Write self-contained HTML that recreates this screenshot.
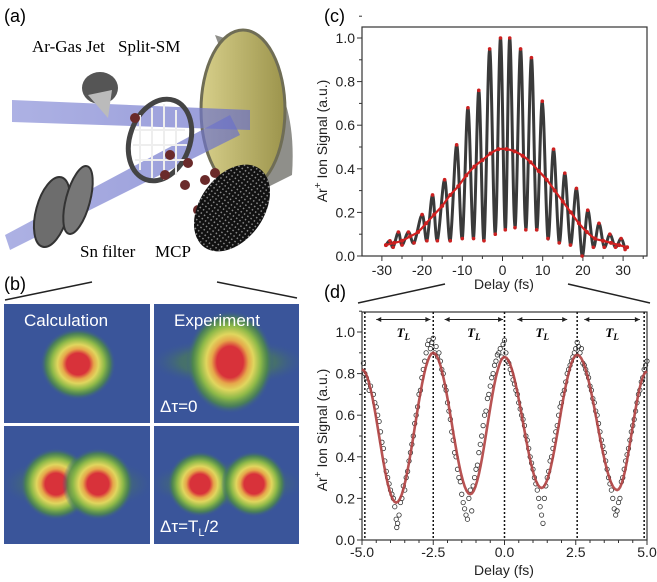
<!DOCTYPE html>
<html><head><meta charset="utf-8"><style>
body{margin:0;background:#fff;}
svg{display:block;font-family:"Liberation Sans",sans-serif;}
</style></head><body>
<svg id="fig" width="657" height="582" viewBox="0 0 657 582" xmlns="http://www.w3.org/2000/svg">
<defs>
 <radialGradient id="spot"><stop offset="0" stop-color="#d8323a"/><stop offset="0.3" stop-color="#d8323a"/><stop offset="0.42" stop-color="#e6a64a"/><stop offset="0.54" stop-color="#e0d65e"/><stop offset="0.7" stop-color="#8cb848"/><stop offset="0.85" stop-color="#4e8a48" stop-opacity="0.8"/><stop offset="1" stop-color="#3a559a" stop-opacity="0"/></radialGradient>
 <radialGradient id="glow"><stop offset="0" stop-color="#4f8a4a"/><stop offset="0.6" stop-color="#4a7a5a" stop-opacity="0.7"/><stop offset="1" stop-color="#3a559a" stop-opacity="0"/></radialGradient>
 <linearGradient id="beam" x1="0" x2="1"><stop offset="0" stop-color="#8a90d8" stop-opacity="0.7"/><stop offset="1" stop-color="#6a70c8" stop-opacity="0.7"/></linearGradient>
 <linearGradient id="mirrorG" x1="0" x2="1"><stop offset="0" stop-color="#d7cf8a"/><stop offset="1" stop-color="#9c944c"/></linearGradient>
 <pattern id="mesh" width="4" height="4" patternUnits="userSpaceOnUse"><rect width="4" height="4" fill="#111"/><rect x="1" y="1" width="1.5" height="1.5" fill="#888"/></pattern>
 <clipPath id="c1"><rect x="4" y="304" width="146" height="119"/></clipPath>
 <clipPath id="c2"><rect x="154" y="304" width="145" height="119"/></clipPath>
 <clipPath id="c3"><rect x="4" y="426" width="146" height="118"/></clipPath>
 <clipPath id="c4"><rect x="154" y="426" width="145" height="118"/></clipPath>
</defs>

<!-- Panel (a) -->
<g>
 <text x="4" y="22" font-size="18">(a)</text>
 <path d="M215,35 Q300,60 292,175 L262,190 Q240,100 215,35Z" fill="#8f8f8a"/>
 <ellipse cx="243" cy="110" rx="42" ry="80" fill="url(#mirrorG)" stroke="#6f6d55" stroke-width="3"/>
 <polygon points="12,100 250,110 250,130 12,122" fill="url(#beam)"/>
 <polygon points="5,235 230,115 240,135 10,250" fill="url(#beam)"/>
 <ellipse cx="100" cy="88" rx="18" ry="16" fill="#555"/>
 <polygon points="88,95 112,90 108,118" fill="#bbb"/>
 <ellipse cx="160" cy="140" rx="30" ry="42" transform="rotate(20 160 140)" fill="none" stroke="#444" stroke-width="5"/>
 <g stroke="#eee" stroke-width="2"><line x1="140" y1="115" x2="140" y2="170"/><line x1="152" y1="108" x2="152" y2="178"/><line x1="164" y1="104" x2="164" y2="180"/><line x1="176" y1="110" x2="176" y2="175"/><line x1="135" y1="130" x2="185" y2="130"/><line x1="133" y1="145" x2="187" y2="145"/><line x1="135" y1="160" x2="185" y2="160"/></g>
 <g fill="#6a2a2a"><circle cx="135" cy="118" r="5"/><circle cx="170" cy="155" r="5"/><circle cx="188" cy="163" r="5"/><circle cx="165" cy="175" r="5"/><circle cx="185" cy="185" r="5"/><circle cx="205" cy="180" r="5"/><circle cx="215" cy="173" r="5"/><circle cx="198" cy="210" r="5"/></g>
 <ellipse cx="52" cy="212" rx="16" ry="36" transform="rotate(15 52 212)" fill="#6d6d6d" stroke="#333" stroke-width="2"/>
 <ellipse cx="78" cy="200" rx="12" ry="35" transform="rotate(15 78 200)" fill="#777" stroke="#333" stroke-width="2"/>
 <ellipse cx="232" cy="208" rx="32" ry="48" transform="rotate(35 232 208)" fill="url(#mesh)"/>
 <g font-family="Liberation Serif,serif" font-size="17">
  <text x="32" y="52">Ar-Gas Jet</text>
  <text x="118" y="52">Split-SM</text>
  <text x="80" y="257">Sn filter</text>
  <text x="155" y="257">MCP</text>
 </g>
</g>

<!-- Panel (b) -->
<g>
 <text x="4" y="290" font-size="18">(b)</text>
 <line x1="5" y1="300" x2="92" y2="282" stroke="#222" stroke-width="1.5"/>
 <line x1="217" y1="282" x2="297" y2="298" stroke="#222" stroke-width="1.5"/>
 <rect x="4" y="304" width="146" height="119" fill="#3a559a"/>
 <rect x="154" y="304" width="145" height="119" fill="#3a559a"/>
 <rect x="4" y="426" width="146" height="118" fill="#3a559a"/>
 <rect x="154" y="426" width="145" height="118" fill="#3a559a"/>
 <g clip-path="url(#c1)"><ellipse cx="78" cy="364" rx="38" ry="36" fill="url(#spot)"/></g>
 <g clip-path="url(#c2)"><ellipse cx="228" cy="362" rx="80" ry="24" fill="url(#glow)"/>
  <ellipse cx="230" cy="362" rx="44" ry="52" fill="url(#spot)"/></g>
 <g clip-path="url(#c3)"><ellipse cx="77" cy="484" rx="78" ry="28" fill="url(#glow)"/>
  <ellipse cx="56" cy="484" rx="36" ry="36" fill="url(#spot)"/>
  <ellipse cx="98" cy="484" rx="36" ry="36" fill="url(#spot)"/></g>
 <g clip-path="url(#c4)"><ellipse cx="226" cy="484" rx="80" ry="24" fill="url(#glow)"/>
  <ellipse cx="200" cy="484" rx="33" ry="33" fill="url(#spot)"/>
  <ellipse cx="254" cy="484" rx="33" ry="33" fill="url(#spot)"/></g>
 <g fill="#fff" font-size="17">
  <text x="24" y="326">Calculation</text>
  <text x="174" y="326">Experiment</text>
  <text x="160" y="412">Δτ=0</text>
  <text x="160" y="532">Δτ=T<tspan font-size="11" dy="4">L</tspan><tspan dy="-4">/2</tspan></text>
 </g>
</g>

<g id="chartC"></g>
<g id="chartD"></g>
</svg>
<script>
// ---- chart (c) data ----
const cDelay=[-29,-28,-27.2,-25.9,-25,-23.4,-22,-20.0,-18.8,-17.4,-16.2,-14.4,-13.0,-11.4,-10.0,-8.6,-7.2,-5.9,-4.6,-3.2,-1.8,-0.5,0.7,1.8,3.1,4.5,5.8,7.2,8.5,9.9,11.3,12.7,14.1,15.5,16.9,18.4,19.8,21.2,22.6,24.0,25.3,26.7,28.1,29.5,30.5];
const cSignal=[0.05,0.07,0.04,0.11,0.05,0.11,0.06,0.19,0.07,0.28,0.07,0.35,0.07,0.51,0.08,0.68,0.08,0.76,0.07,0.95,0.10,1.0,0.12,1.0,0.13,0.95,0.12,0.91,0.12,0.71,0.08,0.49,0.06,0.38,0.05,0.31,0.0,0.21,0.04,0.15,0.04,0.10,0.04,0.08,0.03];
const eDelay=[-29,-27,-25,-23,-21,-19,-17,-15,-13,-11,-9,-7,-5,-3,-1,1,3,5,7,9,11,13,15,17,19,21,23,25,27,29,31];
const eSignal=[0.05,0.06,0.07,0.09,0.11,0.15,0.19,0.23,0.28,0.32,0.37,0.41,0.44,0.47,0.49,0.49,0.48,0.46,0.43,0.39,0.35,0.30,0.25,0.20,0.15,0.11,0.08,0.07,0.06,0.05,0.04];
const cXTicks=[-30,-20,-10,0,10,20,30];
const cYTicks=[0,0.2,0.4,0.6,0.8,1.0];
const cYLabels=["0.0","0.2","0.4","0.6","0.8","1.0"];
// ---- chart (d) data ----
const dExtX=[-5.0,-3.8,-2.5,-1.2,0.0,1.3,2.55,3.95,5.0];
const dExtY=[0.82,0.18,0.90,0.22,0.88,0.25,0.89,0.24,0.81];
const dPts=[[-4.95,.85],[-4.9,.8],[-4.85,.78],[-4.8,.76],[-4.75,.72],[-4.7,.74],[-4.6,.7],[-4.55,.66],[-4.5,.64],[-4.45,.6],[-4.4,.57],[-4.35,.52],[-4.3,.47],[-4.25,.44],[-4.2,.38],[-4.15,.33],[-4.1,.3],[-4.05,.27],[-4.0,.24],[-3.95,.22],[-3.9,.2],[-3.85,.16],[-3.8,.1],[-3.78,.06],[-3.75,.08],[-3.7,.12],[-3.65,.18],[-3.6,.2],[-3.55,.26],
[-3.5,.24],[-3.45,.3],[-3.4,.33],[-3.35,.38],[-3.3,.42],[-3.25,.46],[-3.2,.5],[-3.15,.56],[-3.1,.6],[-3.05,.64],[-3.0,.7],[-2.95,.72],[-2.9,.78],[-2.85,.82],[-2.8,.86],[-2.75,.9],[-2.7,.94],[-2.65,.96],[-2.6,.92],[-2.55,.95],[-2.5,.97],[-2.45,.9],[-2.4,.93],[-2.35,.88],[-2.3,.9],
[-2.25,.86],[-2.2,.82],[-2.15,.8],[-2.1,.74],[-2.05,.72],[-2.0,.66],[-1.95,.62],[-1.9,.58],[-1.85,.52],[-1.8,.48],[-1.75,.42],[-1.7,.4],[-1.65,.34],[-1.6,.3],[-1.55,.28],[-1.5,.22],[-1.45,.18],[-1.4,.15],[-1.35,.12],[-1.3,.1],[-1.25,.2],[-1.2,.24],[-1.15,.14],[-1.1,.26],
[-1.05,.3],[-1.0,.34],[-0.95,.36],[-0.9,.42],[-0.85,.46],[-0.8,.5],[-0.75,.55],[-0.7,.6],[-0.65,.62],[-0.6,.68],[-0.55,.7],[-0.5,.74],[-0.45,.78],[-0.4,.8],[-0.35,.84],[-0.3,.86],[-0.25,.89],[-0.2,.9],[-0.15,.92],[-0.1,.88],[-0.05,.94],[0,.96],[0.05,.9],
[0.1,.86],[0.15,.85],[0.2,.82],[0.25,.8],[0.3,.77],[0.35,.75],[0.4,.72],[0.45,.7],[0.5,.66],[0.55,.63],[0.6,.6],[0.65,.58],[0.7,.55],[0.75,.5],[0.8,.48],[0.85,.44],[0.9,.4],[0.95,.37],[1.0,.34],[1.05,.3],[1.1,.27],[1.15,.24],[1.2,.2],[1.25,.16],[1.3,.12],[1.35,.08],[1.4,.2],[1.45,.26],
[1.5,.3],[1.55,.33],[1.6,.38],[1.65,.4],[1.7,.44],[1.75,.48],[1.8,.52],[1.85,.55],[1.9,.6],[1.95,.64],[2.0,.66],[2.05,.7],[2.1,.72],[2.15,.76],[2.2,.8],[2.25,.82],[2.3,.84],[2.35,.86],[2.4,.88],[2.45,.9],[2.5,.92],[2.55,.95],[2.6,.93],[2.65,.9],
[2.7,.92],[2.75,.85],[2.8,.84],[2.85,.82],[2.9,.8],[2.95,.78],[3.0,.74],[3.05,.72],[3.1,.68],[3.15,.66],[3.2,.62],[3.25,.6],[3.3,.56],[3.35,.52],[3.4,.48],[3.45,.45],[3.5,.42],[3.55,.38],[3.6,.34],[3.65,.3],[3.7,.27],[3.75,.24],[3.8,.2],[3.85,.15],[3.9,.12],[3.95,.14],[4.0,.18],[4.05,.2],
[4.1,.28],[4.15,.3],[4.2,.34],[4.25,.38],[4.3,.41],[4.35,.44],[4.4,.48],[4.45,.52],[4.5,.55],[4.55,.58],[4.6,.62],[4.65,.66],[4.7,.7],[4.75,.72],[4.8,.76],[4.85,.78],[4.9,.82],[4.95,.84],[5.0,.86]];
const dVLines=[-4.9,-2.5,0,2.55,4.9];
const dArrowStart=[-4.5,-2.1,0.45,2.8];
const dArrowEnd=[-2.6,-0.05,2.2,4.75];
const dXTicks=[-5,-2.5,0,2.5,5];
const dXLabels=["-5.0","-2.5","0.0","2.5","5.0"];
const dYTicks=[0,0.2,0.4,0.6,0.8,1.0];
const dYLabels=["0.0","0.2","0.4","0.6","0.8","1.0"];

const NS="http://www.w3.org/2000/svg";
function mk(parent,tag,attrs,text){const e=document.createElementNS(NS,tag);for(const k in attrs)e.setAttribute(k,attrs[k]);if(text!==undefined)e.textContent=text;parent.appendChild(e);return e;}
function spline(pts){let d="M"+pts[0][0]+","+pts[0][1];for(let i=0;i<pts.length-1;i++){const p0=pts[i-1]||pts[i],p1=pts[i],p2=pts[i+1],p3=pts[i+2]||p2;const c1x=p1[0]+(p2[0]-p0[0])/6,c1y=p1[1]+(p2[1]-p0[1])/6,c2x=p2[0]-(p3[0]-p1[0])/6,c2y=p2[1]-(p3[1]-p1[1])/6;d+=" C"+c1x+","+c1y+" "+c2x+","+c2y+" "+p2[0]+","+p2[1];}return d;}

// ---- draw chart C ----
(function(){
 const g=document.getElementById('chartC');
 const L=362,R=647,T=27,B=256;
 const x=v=>502.5+v*4.02, y=v=>B-v*218;
 let t=mk(g,'text',{x:324,y:22,'font-size':18},'(c)');
 
 
 let f=mk(g,'rect',{x:L,y:T,width:R-L,height:B-T,fill:'none',stroke:'#333','stroke-width':1.2});
 
 
 for(let v=-35;v<=35;v+=5){const X=x(v);if(X<L||X>R)continue;mk(g,'line',{x1:X,y1:B,x2:X,y2:B+(v%10===0?5:3),stroke:'#333'});}
 cXTicks.forEach(v=>{const e=mk(g,'text',{x:x(v),y:B+19,'font-size':14,'text-anchor':'middle',fill:'#222'},String(v));
  
  });
 cYTicks.forEach((v,i)=>{mk(g,'line',{x1:L-5,y1:y(v),x2:L,y2:y(v),stroke:'#333'});mk(g,'line',{x1:L-3,y1:y(v+0.1),x2:L,y2:y(v+0.1),stroke:'#333'});
  const e=mk(g,'text',{x:L-7,y:y(v)+5,'font-size':14,'text-anchor':'end',fill:'#222'},cYLabels[i]);
  
  });
 const yl=mk(g,'text',{transform:'translate(327,141) rotate(-90)','font-size':14,'text-anchor':'middle',fill:'#222'});
 
 
 yl.innerHTML='Ar<tspan font-size="10" dy="-6">+</tspan><tspan dy="6">  Ion Signal (a.u.)</tspan>';
 const xl=mk(g,'text',{x:504,y:289,'font-size':14,'text-anchor':'middle',fill:'#222'},'Delay (fs)');
 
 
 const pts=cDelay.map((d,i)=>[x(d),y(cSignal[i])]);
 const line=mk(g,'path',{d:spline(pts),fill:'none',stroke:'#3a3a3a','stroke-width':3});
 
 
 pts.forEach(p=>{const c=mk(g,'circle',{cx:p[0],cy:p[1],r:1.8,fill:'#cc2020'});
  
  });
 const ep=eDelay.map((d,i)=>[x(d),y(eSignal[i])]);
 const env=mk(g,'path',{d:spline(ep),fill:'none',stroke:'#d42020','stroke-width':2.2});
 
 
 ep.forEach(p=>{const c=mk(g,'circle',{cx:p[0],cy:p[1],r:2,fill:'#cc2020'});
  
  });
})();

// ---- draw chart D ----
(function(){
 const g=document.getElementById('chartD');
 const L=362,R=647,T=312,B=540;
 const x=v=>504.5+v*28.5, y=v=>B-v*208;
 let t=mk(g,'text',{x:324,y:298,'font-size':18},'(d)');
 
 
 mk(g,'line',{x1:358,y1:303,x2:445,y2:284,stroke:'#222','stroke-width':1.5});
 mk(g,'line',{x1:568,y1:284,x2:650,y2:303,stroke:'#222','stroke-width':1.5});
 let f=mk(g,'rect',{x:L,y:T,width:R-L,height:B-T,fill:'none',stroke:'#333','stroke-width':1.2});
 
 
 for(let v=-5;v<=5.01;v+=0.5){mk(g,'line',{x1:x(v),y1:B,x2:x(v),y2:B+(Math.abs(v*2)%5===0?5:3),stroke:'#333'});}
 dXTicks.forEach((v,i)=>{const e=mk(g,'text',{x:x(v),y:B+17,'font-size':14,'text-anchor':'middle',fill:'#222'},dXLabels[i]);
  
  });
 dYTicks.forEach((v,i)=>{mk(g,'line',{x1:L-5,y1:y(v),x2:L,y2:y(v),stroke:'#333'});mk(g,'line',{x1:L-3,y1:y(v+0.1),x2:L,y2:y(v+0.1),stroke:'#333'});
  const e=mk(g,'text',{x:L-7,y:y(v)+5,'font-size':14,'text-anchor':'end',fill:'#222'},dYLabels[i]);
  
  });
 const yl=mk(g,'text',{transform:'translate(327,430) rotate(-90)','font-size':14,'text-anchor':'middle',fill:'#222'});
 
 
 yl.innerHTML='Ar<tspan font-size="10" dy="-6">+</tspan><tspan dy="6">  Ion Signal (a.u.)</tspan>';
 const xl=mk(g,'text',{x:504,y:575,'font-size':14,'text-anchor':'middle',fill:'#222'},'Delay (fs)');
 
 
 dVLines.forEach(v=>{const l=mk(g,'line',{x1:x(v),y1:T,x2:x(v),y2:B,stroke:'#111','stroke-width':1.5,'stroke-dasharray':'2,2'});
  
  });
 dArrowStart.forEach((a,i)=>{const b=dArrowEnd[i],yy=y(1.06);
  const l=mk(g,'line',{x1:x(a),y1:yy,x2:x(b),y2:yy,stroke:'#222','stroke-width':1});
  
  
  mk(g,'path',{d:`M${x(a)},${yy} l5,-2.5 v5z M${x(b)},${yy} l-5,-2.5 v5z`,fill:'#222'});
  const tx=mk(g,'text',{x:(x(a)+x(b))/2,y:y(0.975),'font-size':13,'font-style':'italic','font-weight':'bold','font-family':'Liberation Serif,serif','text-anchor':'middle'});
  
  
  tx.innerHTML='T<tspan font-size="9" dy="3">L</tspan>';});
 dPts.forEach(p=>{const c=mk(g,'circle',{cx:x(p[0]),cy:y(p[1]),r:2.2,fill:'none',stroke:'#333','stroke-width':0.8});
  
  });
 let d="";
 for(let i=0;i<dExtX.length-1;i++){for(let k=0;k<=20;k++){const s=k/20,xv=dExtX[i]+(dExtX[i+1]-dExtX[i])*s,yv=dExtY[i]+(dExtY[i+1]-dExtY[i])*(1-Math.cos(Math.PI*s))/2;d+=(d?" L":"M")+x(xv).toFixed(1)+","+y(yv).toFixed(1);}}
 const fit=mk(g,'path',{d:d,fill:'none',stroke:'#b04040','stroke-width':2.6,'stroke-opacity':0.9});
 
 
})();
</script>
</body></html>
